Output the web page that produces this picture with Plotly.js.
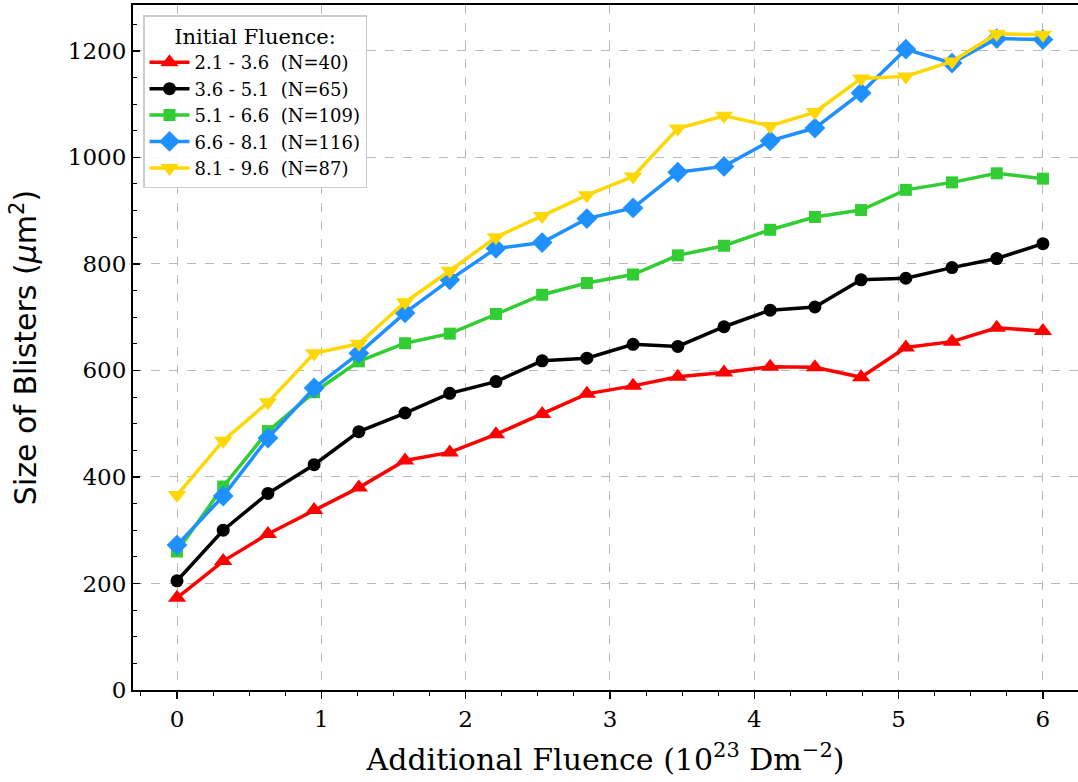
<!DOCTYPE html>
<html>
<head>
<meta charset="utf-8">
<script src="https://cdn.plot.ly/plotly-3.0.1.min.js"></script>
<style>html,body{margin:0;padding:0;background:#fff;}#chart{width:1078px;height:782px;}</style>
</head>
<body>
<div id="chart"></div>
<script>
const fluence = [0, 0.32, 0.63, 0.95, 1.26, 1.58, 1.89, 2.21, 2.53, 2.84, 3.16, 3.47, 3.79, 4.11, 4.42, 4.74, 5.05, 5.37, 5.68, 6.0];
const seriesNames = ["2.1 - 3.6\u00a0\u00a0(N=40)", "3.6 - 5.1\u00a0\u00a0(N=65)", "5.1 - 6.6\u00a0\u00a0(N=109)", "6.6 - 8.1\u00a0\u00a0(N=116)", "8.1 - 9.6\u00a0\u00a0(N=87)"];
const red = [173, 242, 293, 338, 380, 431, 446, 480, 518, 556, 571, 588, 596, 607, 606, 587, 643, 654, 680, 674];
const black = [205, 300, 369, 423, 485, 520, 557, 579, 618, 623, 649, 645, 682, 713, 719, 770, 773, 793, 810, 838];
const green = [260, 382, 486, 559, 617, 651, 669, 706, 742, 764, 780, 816, 834, 864, 888, 901, 939, 953, 970, 960];
const blue = [272, 364, 473, 567, 632, 708, 770, 829, 840, 885, 905, 972, 983, 1031, 1055, 1121, 1203, 1177, 1223, 1221];
const yellow = [366, 468, 540, 632, 650, 728, 787, 850, 890, 929, 964, 1054, 1078, 1059, 1085, 1148, 1152, 1180, 1232, 1230];
const xTicks = [0, 1, 2, 3, 4, 5, 6];
const yTicks = [0, 200, 400, 600, 800, 1000, 1200];

const values = [red, black, green, blue, yellow];
const colors = ["#ff0000", "#000000", "#32cd32", "#1e90ff", "#ffd700"];
const symbols = ["triangle-up", "circle", "square", "diamond", "triangle-down"];
const sizes = [16, 13, 12, 16, 16];

const traces = values.map((v, k) => ({
  x: fluence, y: v, name: seriesNames[k], type: "scatter", mode: "lines+markers",
  line: {color: colors[k], width: 3.5},
  marker: {color: colors[k], symbol: symbols[k], size: sizes[k], line: {width: 0}}
}));

const serif = "DejaVu Serif, serif";
const layout = {
  width: 1078, height: 782,
  margin: {l: 133, r: 0, t: 5, b: 92},
  paper_bgcolor: "#fff", plot_bgcolor: "#fff",
  showlegend: true,
  legend: {
    x: 0.0106, y: 0.985, xanchor: "left", yanchor: "top",
    bgcolor: "rgba(255,255,255,0.9)", bordercolor: "#cccccc", borderwidth: 1.5,
    font: {family: serif, size: 18, color: "#000"},
    title: {text: "Initial Fluence:", side: "top center", font: {family: serif, size: 21, color: "#000"}},
    tracegroupgap: 0, itemwidth: 40
  },
  xaxis: {
    range: [-0.305, 6.243], tickvals: xTicks, ticktext: xTicks.map(String),
    ticks: "outside", ticklen: 7, tickwidth: 1.5, tickcolor: "#000",
    showline: true, linecolor: "#000", linewidth: 2, mirror: true,
    showgrid: true, gridcolor: "#b8b8b8", griddash: "dash", gridwidth: 1,
    zeroline: false,
    minor: {dtick: 0.25, tick0: 0, ticks: "outside", ticklen: 4, tickcolor: "#000", tickwidth: 1, showgrid: false},
    tickfont: {family: serif, size: 23, color: "#000"},
    title: {text: "Additional Fluence (10<sup>23</sup> Dm<sup>−2</sup>)", font: {family: serif, size: 30, color: "#000"}, standoff: 18}
  },
  yaxis: {
    range: [0, 1286], tickvals: yTicks, ticktext: yTicks.map(String),
    ticks: "inside", ticklen: 7, tickwidth: 1.5, tickcolor: "#000",
    showline: true, linecolor: "#000", linewidth: 2, mirror: false,
    showgrid: true, gridcolor: "#b8b8b8", griddash: "dash", gridwidth: 1,
    zeroline: false,
    minor: {dtick: 50, tick0: 0, ticks: "inside", ticklen: 4, tickcolor: "#000", tickwidth: 1, showgrid: false},
    tickfont: {family: serif, size: 23, color: "#000"},
    title: {text: "Size of Blisters (<i>μ</i>m<sup>2</sup>)", font: {family: "DejaVu Sans, sans-serif", size: 30, color: "#000"}, standoff: 22}
  }
};
Plotly.newPlot("chart", traces, layout, {displayModeBar: false, staticPlot: true});
</script>
</body>
</html>
